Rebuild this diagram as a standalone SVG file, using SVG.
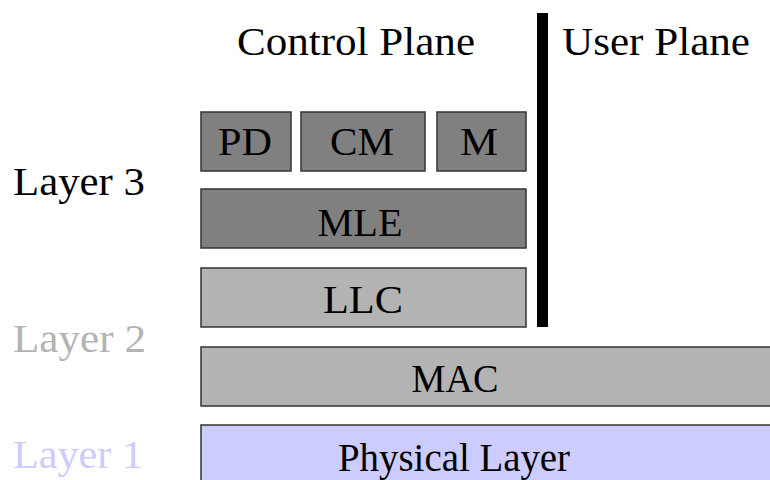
<svg xmlns="http://www.w3.org/2000/svg" width="770" height="480" viewBox="0 0 770 480" font-family="'Liberation Serif', serif" style="font-family:'Liberation Serif',serif">
  <style>
    text { font-family: 'Liberation Serif', serif; font-size: 41px; fill: #000; }
    .lbl { text-anchor: middle; }
    .box { stroke: #333; stroke-width: 1.5; }
    .dark { fill: #808080; }
    .light { fill: #b3b3b3; }
    .phy { fill: #ccccff; }
  </style>
  <rect width="770" height="480" fill="#fff"/>

  <g id="headings">
    <text x="237" y="55" textLength="238" lengthAdjust="spacingAndGlyphs">Control Plane</text>
    <text x="562" y="55" textLength="188" lengthAdjust="spacingAndGlyphs">User Plane</text>
    <rect x="537" y="13" width="11" height="314" fill="#000"/>
  </g>

  <g id="layer-labels">
    <text x="13" y="195" textLength="132" lengthAdjust="spacingAndGlyphs">Layer 3</text>
    <text x="13" y="352" style="fill:#b3b3b3" textLength="133" lengthAdjust="spacingAndGlyphs">Layer 2</text>
    <text x="13" y="468" style="fill:#ccccff" textLength="130" lengthAdjust="spacingAndGlyphs">Layer 1</text>
  </g>

  <g id="pd">
    <rect class="box dark" x="201" y="112" width="90" height="59"/>
    <text class="lbl" x="245" y="155" textLength="54" lengthAdjust="spacingAndGlyphs">PD</text>
  </g>
  <g id="cm">
    <rect class="box dark" x="301" y="112" width="124" height="59"/>
    <text class="lbl" x="362" y="155" textLength="64" lengthAdjust="spacingAndGlyphs">CM</text>
  </g>
  <g id="m">
    <rect class="box dark" x="437" y="112" width="89" height="59"/>
    <text class="lbl" x="479" y="155" textLength="38" lengthAdjust="spacingAndGlyphs">M</text>
  </g>
  <g id="mle">
    <rect class="box dark" x="201" y="189" width="325" height="59"/>
    <text class="lbl" x="360" y="236" textLength="85" lengthAdjust="spacingAndGlyphs">MLE</text>
  </g>
  <g id="llc">
    <rect class="box light" x="201" y="268" width="325" height="59"/>
    <text class="lbl" x="363" y="313" textLength="80" lengthAdjust="spacingAndGlyphs">LLC</text>
  </g>
  <g id="mac">
    <rect class="box light" x="201" y="347" width="600" height="59"/>
    <text class="lbl" x="455" y="392" textLength="87" lengthAdjust="spacingAndGlyphs">MAC</text>
  </g>
  <g id="physical">
    <rect class="box phy" x="201" y="425" width="600" height="80"/>
    <text class="lbl" x="454" y="471" textLength="232" lengthAdjust="spacingAndGlyphs">Physical Layer</text>
  </g>

  <g id="connectors"/>
</svg>
